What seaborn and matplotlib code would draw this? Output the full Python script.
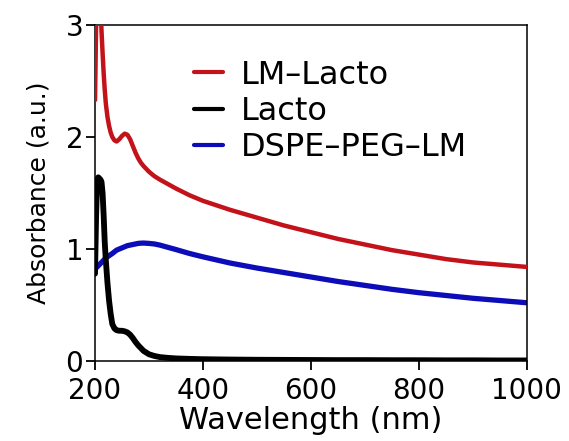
import pandas as pd
import seaborn as sns
import matplotlib.pyplot as plt

# longitudes de onda (nm), rejilla comun para las tres curvas
wavelength = [200, 202, 204, 206, 208, 210, 212, 214, 216, 218, 220, 223, 226, 229, 232, 236,
              240, 245, 250, 255, 260, 265, 270, 275, 280, 285, 290, 300, 310, 320, 335, 350,
              375, 400, 450, 500, 550, 600, 650, 700, 750, 800, 850, 900, 950, 1000]

abs_lm_lacto = [2.33, 3.0, 3.3, 3.4, 3.35, 3.2, 2.95, 2.75, 2.57, 2.42, 2.3, 2.18, 2.1, 2.04, 2.0, 1.97,
                1.96, 1.98, 2.01, 2.03, 2.02, 1.98, 1.92, 1.86, 1.81, 1.77, 1.74, 1.69, 1.65, 1.62, 1.58, 1.54,
                1.48, 1.43, 1.35, 1.28, 1.21, 1.15, 1.09, 1.04, 0.99, 0.95, 0.91, 0.88, 0.86, 0.84]

abs_lacto = [0.78, 1.3, 1.62, 1.64, 1.63, 1.62, 1.6, 1.5, 1.3, 1.06, 0.9, 0.7, 0.54, 0.42, 0.33, 0.29,
             0.275, 0.27, 0.27, 0.265, 0.255, 0.235, 0.205, 0.17, 0.14, 0.115, 0.09, 0.06, 0.045, 0.035, 0.028, 0.023,
             0.019, 0.016, 0.013, 0.011, 0.01, 0.009, 0.008, 0.008, 0.007, 0.007, 0.006, 0.006, 0.005, 0.005]

abs_dspe = [0.82, 0.83, 0.84, 0.85, 0.86, 0.87, 0.88, 0.89, 0.9, 0.91, 0.92, 0.93, 0.94, 0.95, 0.96, 0.975,
            0.99, 1.0, 1.01, 1.02, 1.03, 1.035, 1.04, 1.045, 1.05, 1.052, 1.053, 1.05, 1.045, 1.035, 1.015, 0.995,
            0.96, 0.93, 0.875, 0.83, 0.79, 0.75, 0.71, 0.675, 0.64, 0.61, 0.585, 0.56, 0.54, 0.52]

x_ticks = [200, 400, 600, 800, 1000]
y_ticks = [0, 1, 2, 3]

df = pd.DataFrame({"wl": wavelength, "lm": abs_lm_lacto, "lacto": abs_lacto, "dspe": abs_dspe})

sns.set_style("ticks")
plt.rcParams["font.family"] = ["DejaVu Sans"]
plt.rcParams["text.color"] = "black"
plt.rcParams["axes.labelcolor"] = "black"

fig = plt.figure(figsize=(5.69, 4.41), dpi=100)
ax = fig.add_axes([0.167, 0.1814, 0.759, 0.7619])

sns.lineplot(data=df, x="wl", y="lm", color="#c4121a", linewidth=3.2, label="LM\u2013Lacto",
             sort=False, estimator=None, ax=ax, zorder=3)
sns.lineplot(data=df, x="wl", y="lacto", color="black", linewidth=4.2, label="Lacto",
             sort=False, estimator=None, ax=ax, zorder=4)
sns.lineplot(data=df, x="wl", y="dspe", color="#0c0cb8", linewidth=3.8, label="DSPE\u2013PEG\u2013LM",
             sort=False, estimator=None, ax=ax, zorder=2)

ax.set_xlim(200, 1000)
ax.set_ylim(0, 3)
ax.set_xticks(x_ticks)
ax.set_yticks(y_ticks)
for s in ax.spines.values():
    s.set_linewidth(1.1)
    s.set_color("black")

# marcas hacia fuera, como en la figura original
ax.tick_params(axis="both", which="major", direction="out", length=6.5, width=1.3,
               color="black", labelcolor="black", labelsize=20)
ax.tick_params(axis="x", pad=5)
ax.tick_params(axis="y", pad=2)

ax.set_xlabel("Wavelength (nm)", fontsize=22, labelpad=1)
ax.set_ylabel("Absorbance (a.u.)", fontsize=18, labelpad=11)

leg = ax.legend(loc="upper left", bbox_to_anchor=(0.23, 0.897), frameon=False, fontsize=23,
                handlelength=0.9, handletextpad=0.55, labelspacing=0.17, borderpad=0,
                borderaxespad=0)
for h in leg.get_lines():
    h.set_linewidth(3.0)

fig.savefig("out.png", dpi=100)
